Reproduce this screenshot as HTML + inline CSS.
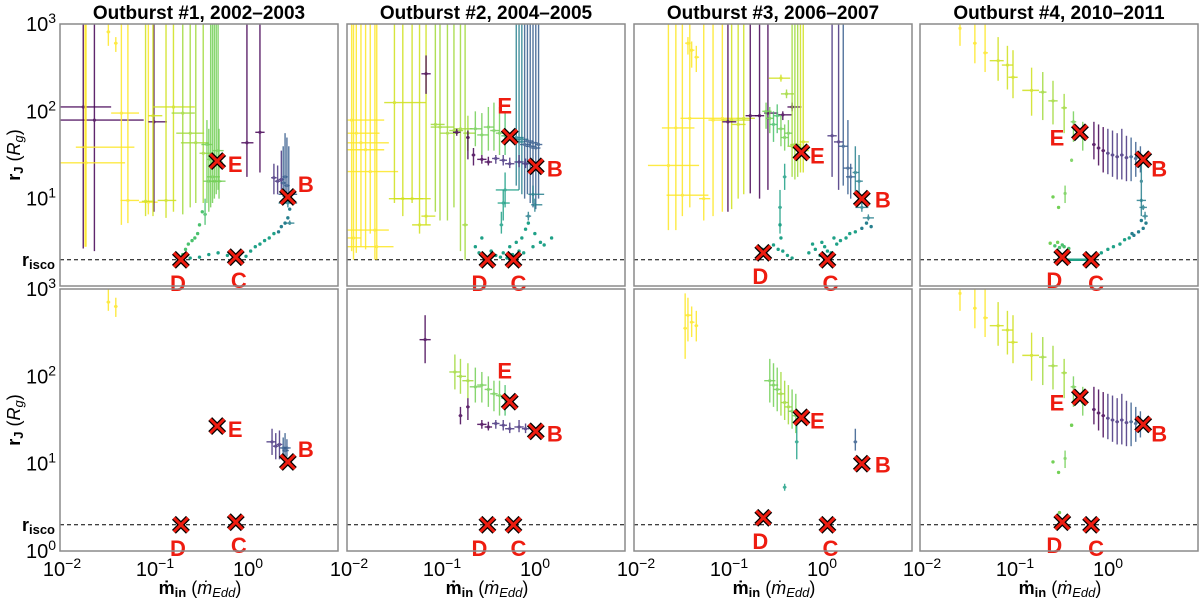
<!DOCTYPE html>
<html><head><meta charset="utf-8"><style>
html,body{margin:0;padding:0;background:#fff;width:1200px;height:600px;overflow:hidden}
svg{display:block;font-family:"Liberation Sans",sans-serif}
</style></head><body>
<svg id="chart" width="1200" height="600" viewBox="0 0 1200 600" xmlns="http://www.w3.org/2000/svg"></svg>
<script>
// ---- data (log10 units): [logMdot, logR, logRtop, logRbot, logMdotLo, logMdotHi, colorIdx]
const titles = ["Outburst #1, 2002\u20132003","Outburst #2, 2004\u20132005","Outburst #3, 2006\u20132007","Outburst #4, 2010\u20132011"];
const yTickVals = [3,2,1];
const xTickVals = [-2,-1,0];
const rIscoLog = 0.30;
const markerLetters = ["B","C","D","E"];
const markerLx = [[0.45,-0.11,-0.70,-0.31],[0.03,-0.21,-0.49,-0.25],[0.45,0.08,-0.61,-0.20],[0.40,-0.16,-0.47,-0.28]];
const markerLy = [[1.02,0.33,0.30,1.43],[1.37,0.30,0.30,1.71],[1.00,0.30,0.38,1.53],[1.45,0.30,0.33,1.76]];

const p1TopBars = [
[-1.75,2.05,3.5,0.43,-2.1,-1.45,9],[-1.63,1.90,3.5,0.40,-2.1,-1.1,9],[-1.73,1.59,3.5,0.45,-1.83,-1.2,0],
[-1.72,1.41,3.5,0.45,-2.1,-1.3,0],[-1.34,1.98,3.5,0.70,-1.45,-1.15,0],[-1.27,0.98,3.5,0.72,-1.35,-1.15,0],
[-1.05,0.96,3.5,0.82,-1.15,-0.95,0],[-1.08,0.97,3.5,0.80,-1.12,-1.0,1],[-0.99,1.88,3.5,0.85,-1.05,-0.85,9],
[-1.00,1.95,3.5,0.80,-1.05,-0.9,1],[-0.86,0.98,3.5,0.78,-0.95,-0.75,1],[-0.78,2.05,3.5,0.85,-1.0,-0.55,1],
[-0.68,1.98,3.5,0.82,-0.8,-0.55,2],[-0.60,1.75,3.5,0.90,-0.75,-0.45,2],[-0.54,1.64,3.5,0.95,-0.7,-0.4,2],
[-0.46,1.52,3.5,0.95,-0.5,-0.35,2],[-0.42,1.62,1.9,0.95,-0.48,-0.36,3],[-0.40,1.20,1.8,0.85,-0.46,-0.34,3],
[-0.38,1.45,3.5,0.90,-0.42,-0.30,3],[-0.36,1.25,3.5,0.95,-0.42,-0.28,3],[-0.34,1.20,3.5,1.0,-0.40,-0.26,3],
[-0.32,1.42,3.5,1.05,-0.38,-0.25,3],[-0.30,1.55,3.5,1.1,-0.36,-0.24,3],[-0.29,1.20,1.8,1.0,-0.35,-0.22,3],
[-0.44,0.82,1.0,0.70,-0.46,-0.42,4],[0.01,1.64,3.5,1.25,-0.05,0.08,9],[0.15,1.76,3.5,1.30,0.10,0.20,9],
[0.30,1.24,1.40,1.05,0.27,0.33,8],[0.34,1.20,1.38,1.05,0.31,0.37,8],[0.38,1.22,1.55,1.05,0.35,0.41,8],
[0.40,1.18,1.60,1.02,0.37,0.43,7],[0.42,1.25,1.75,1.00,0.39,0.45,7],[0.44,1.15,1.70,1.00,0.41,0.47,7],
[0.46,1.05,1.60,0.95,0.35,0.55,7],[0.45,0.95,1.0,0.90,0.35,0.55,6],[0.47,0.72,0.75,0.70,0.43,0.52,6],
[-1.48,2.91,3.0,2.75,-1.50,-1.46,0],[-1.40,2.78,2.85,2.68,-1.42,-1.38,0]];
const p1TopDots = [
[-0.68,0.36,4],[-0.65,0.42,4],[-0.62,0.48,4],[-0.58,0.52,4],[-0.55,0.55,4],[-0.52,0.60,4],[-0.50,0.70,4],[-0.47,0.85,4],
[-0.6,0.32,5],[-0.5,0.33,5],[-0.4,0.36,5],[-0.3,0.38,5],[-0.2,0.35,5],[-0.1,0.32,5],[0.0,0.34,5],[0.05,0.40,5],
[0.1,0.45,5],[0.15,0.48,5],[0.2,0.52,5],[0.25,0.55,5],[0.3,0.6,5],[0.35,0.62,6],[0.38,0.68,6],[0.42,0.72,6],[0.45,0.78,6],[0.47,0.88,6]];
const p1BotBars = [
[-1.48,2.85,3.05,2.75,-1.50,-1.46,0],[-1.40,2.80,2.9,2.68,-1.42,-1.38,0],
[0.28,1.25,1.4,1.1,0.22,0.32,8],[0.32,1.20,1.35,1.05,0.29,0.35,8],[0.36,1.22,1.38,1.05,0.33,0.39,8],
[0.40,1.18,1.30,1.05,0.36,0.44,7],[0.42,1.15,1.35,1.05,0.39,0.46,7],[0.44,1.18,1.28,1.08,0.40,0.48,7]];
const p1BotDots = [];

const p2Purple = [[-0.55,1.45,1.5,1.4,-0.6,-0.5,9],[-0.48,1.42,1.48,1.38,-0.52,-0.44,9],[-0.40,1.46,1.5,1.4,-0.44,-0.36,8],
[-0.32,1.44,1.5,1.38,-0.36,-0.28,8],[-0.25,1.40,1.47,1.35,-0.3,-0.2,8],[-0.15,1.42,1.5,1.36,-0.2,-0.1,8],[-0.08,1.40,1.46,1.35,-0.12,-0.04,8]];
const p2TopBars = [
[-1.95,1.90,3.5,0.40,-2.1,-1.6,0],[-1.9,1.75,3.5,0.38,-2.1,-1.65,0],[-1.85,1.64,3.5,0.45,-2.1,-1.55,0],[-1.80,1.56,3.5,0.42,-2.1,-1.6,0],
[-1.75,1.31,3.5,0.60,-2.1,-1.45,0],[-1.70,0.64,3.5,0.30,-2.1,-1.55,0],[-1.68,0.45,3.5,0.30,-2.1,-1.5,0],[-1.93,0.55,3.5,0.30,-2.1,-1.85,0],
[-1.49,2.10,3.5,0.95,-1.6,-1.15,1],[-1.40,1.00,3.5,0.80,-1.55,-1.18,1],[-1.30,1.00,3.5,0.95,-1.5,-1.1,1],[-1.22,0.70,3.5,0.60,-1.3,-1.1,1],[-1.15,0.80,3.5,0.70,-1.2,-1.05,1],
[-1.05,1.85,3.5,0.85,-1.1,-0.95,2],[-1.0,1.82,3.5,0.75,-1.1,-0.85,2],[-0.92,1.75,3.5,0.75,-1.0,-0.8,2],[-0.85,1.78,3.5,0.90,-0.9,-0.75,2],[-0.78,1.80,3.5,0.40,-0.85,-0.65,2],[-0.73,0.70,3.5,0.30,-0.76,-0.7,2],
[-0.70,1.75,1.95,1.55,-0.75,-0.62,2],[-0.62,1.80,2.0,1.6,-0.68,-0.55,3],[-0.55,1.73,1.98,1.5,-0.6,-0.48,3],[-0.48,1.82,2.05,1.55,-0.53,-0.42,3],
[-0.42,1.78,2.1,1.55,-0.46,-0.36,3],[-0.36,1.75,2.05,1.5,-0.4,-0.3,3],[-0.30,1.72,2.0,1.5,-0.34,-0.25,4],
[-1.15,2.43,2.64,2.2,-1.2,-1.1,9],[-0.82,1.76,1.8,1.72,-0.86,-0.78,9],[-0.70,1.70,1.78,1.45,-0.72,-0.68,9],[-0.64,1.50,1.58,1.38,-0.66,-0.62,9],
[-0.18,1.70,3.5,1.15,-0.22,-0.1,6],[-0.15,1.65,3.5,1.10,-0.2,-0.08,6],[-0.12,1.68,3.5,1.05,-0.18,-0.05,6],[-0.09,1.62,3.5,1.0,-0.14,-0.02,7],
[-0.06,1.66,3.5,1.05,-0.1,0.0,7],[-0.03,1.60,3.5,0.95,-0.08,0.03,7],[0.0,1.64,3.5,0.90,-0.05,0.05,7],[0.03,1.58,3.5,0.88,-0.02,0.08,7],[0.06,1.62,3.5,1.0,0.02,0.1,7],
[-0.30,1.10,1.3,0.9,-0.4,-0.15,5],[-0.32,0.95,1.1,0.75,-0.38,-0.25,5],[-0.34,0.70,0.85,0.6,-0.36,-0.32,5],
[0.0,1.05,1.15,0.95,-0.05,0.12,6],[0.02,0.93,1.0,0.85,-0.02,0.1,6],[-0.05,0.80,0.85,0.75,-0.08,-0.02,6]].concat(p2Purple);
const p2TopDots = [[-0.55,0.55,5],[-0.62,0.45,5],[-0.58,0.38,5],[-0.45,0.40,5],[-0.40,0.35,5],[-0.35,0.33,5],[-0.28,0.32,5],[-0.22,0.36,5],
[-0.15,0.40,5],[-0.10,0.38,5],[-0.25,0.45,5],[-0.12,0.55,5],[-0.08,0.65,5],[-0.05,0.72,5],[0.02,0.60,5],[0.08,0.50,5],[0.12,0.47,5],
[0.20,0.55,5],[-0.18,0.50,5],[-0.32,0.38,5],[0.0,0.45,5]];
const p2BotBars = [[-1.16,2.42,2.7,2.15,-1.22,-1.1,9],
[-0.84,2.05,2.25,1.85,-0.9,-0.78,2],[-0.78,2.00,2.2,1.8,-0.82,-0.72,2],[-0.70,1.95,2.15,1.75,-0.76,-0.64,2],[-0.62,1.88,2.1,1.7,-0.68,-0.56,3],
[-0.55,1.90,2.05,1.7,-0.6,-0.5,3],[-0.48,1.85,2.0,1.65,-0.52,-0.44,3],[-0.42,1.80,1.95,1.6,-0.46,-0.38,3],[-0.36,1.78,1.95,1.55,-0.4,-0.32,3],
[-0.30,1.75,1.9,1.55,-0.34,-0.26,4],[-0.78,1.55,1.65,1.45,-0.8,-0.76,9],[-0.70,1.65,1.75,1.5,-0.72,-0.68,9]].concat(p2Purple);
const p2BotDots = [];

const p3TopBars = [
[-1.63,1.38,3.5,0.64,-1.85,-1.3,0],[-1.55,1.81,3.5,0.64,-1.7,-1.35,0],[-1.48,1.04,3.5,0.80,-1.65,-1.2,0],[-1.40,1.92,3.5,0.90,-1.5,-1.2,0],
[-1.25,1.00,3.5,0.75,-1.3,-1.18,0],[-1.15,1.90,3.5,0.80,-1.2,-1.0,0],[-1.05,1.92,3.5,0.85,-1.2,-0.9,0],[-0.95,1.90,3.5,0.88,-1.05,-0.75,1],
[-0.88,1.85,3.5,1.0,-0.95,-0.8,1],[-0.82,1.92,3.5,1.05,-0.9,-0.7,1],
[-1.42,2.78,2.85,2.65,-1.45,-1.39,0],[-1.38,2.70,2.8,2.5,-1.4,-1.35,0],[-1.33,2.62,2.75,2.45,-1.35,-1.30,0],
[-0.99,1.88,3.5,0.85,-1.05,-0.9,9],[-0.75,1.95,3.5,1.06,-0.8,-0.65,9],[-0.65,1.95,3.5,1.0,-0.7,-0.6,9],[-0.56,1.98,3.5,1.1,-0.6,-0.45,9],
[-0.30,2.05,2.1,2.0,-0.35,-0.2,9],[-0.40,1.96,2.0,1.9,-0.45,-0.3,9],
[-0.30,1.60,3.5,1.25,-0.35,-0.2,2],[-0.27,1.62,3.5,1.22,-0.32,-0.2,2],[-0.24,1.58,3.5,1.25,-0.3,-0.15,2],[-0.21,1.55,3.5,1.3,-0.25,-0.12,1],
[-0.18,1.65,3.5,1.3,-0.22,-0.12,1],[-0.42,2.38,2.42,2.34,-0.55,-0.32,1],[-0.36,2.20,2.25,2.15,-0.42,-0.28,2],
[-0.58,2.0,2.1,1.8,-0.62,-0.52,3],[-0.54,1.92,2.05,1.75,-0.58,-0.5,3],[-0.50,1.85,2.0,1.65,-0.54,-0.46,4],[-0.46,1.95,2.08,1.75,-0.5,-0.42,4],
[-0.42,1.80,1.95,1.6,-0.46,-0.38,3],[-0.38,1.70,1.85,1.55,-0.42,-0.34,3],[-0.34,1.75,1.9,1.6,-0.38,-0.3,3],
[-0.43,0.90,1.1,0.6,-0.45,-0.41,5],[-0.38,1.25,1.4,1.1,-0.4,-0.36,5],
[0.13,1.72,3.5,1.25,0.08,0.18,8],[0.20,1.65,3.5,1.1,0.15,0.25,8],[0.25,1.60,3.5,1.15,0.2,0.3,7],[0.30,1.35,1.9,1.05,0.25,0.35,7],
[0.33,1.25,1.4,1.0,0.28,0.38,7],[0.38,1.30,1.6,1.05,0.35,0.42,6],[0.42,1.20,1.5,0.95,0.38,0.46,6],[0.45,0.90,0.95,0.85,0.38,0.52,6],[0.52,0.78,0.82,0.75,0.46,0.58,6]];
const p3TopDots = [[-0.62,0.42,5],[-0.55,0.45,5],[-0.50,0.47,5],[-0.45,0.42,5],[-0.40,0.40,5],[-0.35,0.35,5],[-0.30,0.32,5],[-0.42,0.55,5],
[-0.43,0.70,5],[-0.12,0.38,5],[-0.05,0.42,5],[0.0,0.35,5],[0.05,0.45,5],[0.08,0.40,5],[0.12,0.38,5],[0.18,0.48,5],[0.22,0.52,5],
[0.28,0.55,5],[0.32,0.60,5],[0.38,0.62,5],[0.45,0.66,6],[0.55,0.68,6],[0.50,0.72,6],[-0.08,0.48,5],[0.02,0.50,5],[0.15,0.55,5]];
const p3BotBars = [[-1.42,2.70,2.9,2.4,-1.45,-1.38,0],[-1.38,2.62,2.8,2.45,-1.4,-1.35,0],[-1.33,2.58,2.75,2.4,-1.35,-1.31,0],[-1.45,2.55,2.95,2.2,-1.47,-1.43,0],
[-0.54,1.95,2.2,1.7,-0.6,-0.48,3],[-0.50,1.90,2.15,1.65,-0.54,-0.45,3],[-0.46,1.85,2.1,1.6,-0.5,-0.42,3],[-0.42,1.80,2.05,1.55,-0.46,-0.38,2],
[-0.38,1.70,1.95,1.5,-0.42,-0.34,2],[-0.34,1.65,1.9,1.45,-0.38,-0.3,2],[-0.30,1.60,1.85,1.40,-0.34,-0.26,3],[-0.26,1.55,1.8,1.35,-0.3,-0.22,3],
[-0.25,1.25,1.45,1.05,-0.27,-0.23,5],[-0.38,0.73,0.77,0.69,-0.4,-0.36,5],[0.38,1.25,1.40,1.15,0.36,0.40,7]];
const p3BotDots = [];

const p4Diag = [[-1.57,2.95,3.5,2.75,-1.58,-1.56,0],[-1.41,2.78,3.05,2.55,-1.43,-1.39,0],[-1.30,2.67,3.0,2.45,-1.32,-1.27,0],
[-1.16,2.58,2.85,2.35,-1.25,-1.1,1],[-1.06,2.53,2.75,2.25,-1.12,-1.0,1],[-1.0,2.39,2.7,2.15,-1.05,-0.95,1],[-0.80,2.24,2.5,1.95,-0.9,-0.72,1],
[-0.68,2.22,2.45,1.9,-0.72,-0.64,2],[-0.57,2.12,2.35,1.85,-0.62,-0.52,2],[-0.45,2.04,2.2,1.75,-0.48,-0.42,2],[-0.35,1.88,2.0,1.65,-0.38,-0.32,3],
[-0.25,1.70,1.88,1.55,-0.27,-0.23,3],
[-0.13,1.62,1.88,1.45,-0.15,-0.11,9],[-0.08,1.58,1.85,1.38,-0.1,-0.06,9],[-0.03,1.55,1.82,1.3,-0.05,-0.01,9],[0.02,1.52,1.8,1.28,0,0.04,8],
[0.07,1.50,1.78,1.25,0.05,0.09,8],[0.12,1.48,1.75,1.22,0.1,0.14,8],[0.17,1.50,1.8,1.22,0.15,0.19,8],[0.22,1.47,1.72,1.2,0.2,0.24,8],
[0.27,1.48,1.7,1.2,0.25,0.29,7],[0.32,1.46,1.65,1.25,0.3,0.34,7],[0.37,1.48,1.6,1.3,0.35,0.39,7],
[-0.37,1.44,1.46,1.42,-0.38,-0.36,3],[-0.44,1.06,1.15,0.95,-0.45,-0.43,3]];
const p4TopBars = p4Diag.concat([[0.38,1.2,1.45,0.8,0.37,0.39,6],[0.38,0.98,1.0,0.96,0.33,0.43,6],[0.40,0.90,0.93,0.87,0.36,0.44,6],[0.42,0.80,0.85,0.76,0.39,0.45,6]]);
const p4TopDots = [[-0.57,1.02,3],[-0.51,0.90,3],[-0.60,0.49,3],[-0.55,0.46,4],[-0.50,0.44,4],[-0.45,0.45,4],[-0.40,0.43,4],[-0.52,0.50,3],[-0.47,0.47,4],
[-0.05,0.38,5],[0.02,0.42,5],[0.08,0.45,5],[0.15,0.48,5],[0.20,0.53,5],[0.25,0.55,5],[0.30,0.58,6],[0.35,0.62,6],[0.40,0.66,6],[0.43,0.72,6],[0.38,0.75,6],[0.28,0.60,6]];
const p4BotBars = p4Diag;
const p4BotDots = [[-0.57,1.02,3],[-0.51,0.90,3],[-0.50,0.44,3],[-0.37,1.44,3]];
const p4DCLine = [-0.47,-0.16];

const palette = ['#fde725','#d0e11c','#a0da39','#73d056','#4ac16d','#1fa187','#277f8e','#365c8d','#46327e','#440154'];
const panelBars = [[p1TopBars,p2TopBars,p3TopBars,p4TopBars],[p1BotBars,p2BotBars,p3BotBars,p4BotBars]];
const panelDots = [[p1TopDots,p2TopDots,p3TopDots,p4TopDots],[p1BotDots,p2BotDots,p3BotDots,p4BotDots]];

// ---- layout
const lefts = [60,347,634,920], W = 278, tops = [24,289], H = 262;
const XDEC = 93, YDEC = H/3;
const X = (c, lx) => lefts[c] + (lx + 2) * XDEC;
const Y = (r, ly) => tops[r] + (3 - ly) * YDEC;
const NS = "http://www.w3.org/2000/svg";
const svg = document.getElementById('chart');
function mk(tag, attrs, parent){const e=document.createElementNS(NS,tag);for(const k in attrs)e.setAttribute(k,attrs[k]);(parent||svg).appendChild(e);return e;}
const defs = mk('defs',{});
const labelOff = [[[18,-13],[3,23],[-3,23],[18,3]],[[19,2],[5,23],[-8,23],[-5,-31]],[[21,1],[3,23],[-3,23],[16,3]],[[16,9],[5,23],[-8,23],[-23,5]]];

for (let r=0;r<2;r++){
  for (let c=0;c<4;c++){
    const cp = mk('clipPath',{id:'cp'+r+c},defs);
    mk('rect',{x:lefts[c],y:tops[r],width:W,height:H},cp);
    const g = mk('g',{'clip-path':'url(#cp'+r+c+')'});
    
    
    const dl = mk('line',{x1:lefts[c],x2:lefts[c]+W,y1:Y(r,rIscoLog),y2:Y(r,rIscoLog),stroke:'#000','stroke-width':1,'stroke-dasharray':'4,3'},g);
    
    
    panelBars[r][c].forEach(b=>{
      const col = palette[b[6]];
      const bg = mk('g',{stroke:col,'stroke-width':1.4,opacity:0.85},g);
      
      
      mk('line',{x1:X(c,b[0]),x2:X(c,b[0]),y1:Y(r,b[2]),y2:Y(r,b[3])},bg);
      mk('line',{x1:X(c,b[4]),x2:X(c,b[5]),y1:Y(r,b[1]),y2:Y(r,b[1])},bg);
      mk('circle',{cx:X(c,b[0]),cy:Y(r,b[1]),r:1.6,fill:col,stroke:'none'},bg);
    });
    panelDots[r][c].forEach(d=>{
      const dt = mk('circle',{cx:X(c,d[0]),cy:Y(r,d[1]),r:1.7,fill:palette[d[2]]},g);
      
      
    });
    if (c===3 && r===0){
      const ln = mk('line',{x1:X(c,p4DCLine[0]),x2:X(c,p4DCLine[1]),y1:Y(r,rIscoLog),y2:Y(r,rIscoLog),stroke:palette[5],'stroke-width':2.5},g);
      
      
    }
    for (let m=0;m<4;m++){
      const mx = X(c,markerLx[c][m]), my = Y(r,markerLy[c][m]);
      const mg = mk('g',{});
      
      
      const s=7;
      [['#000',5.5],['#ee1c10',3]].forEach(([st,w])=>{
        mk('line',{x1:mx-s,y1:my-s,x2:mx+s,y2:my+s,stroke:st,'stroke-width':w},mg);
        mk('line',{x1:mx-s,y1:my+s,x2:mx+s,y2:my-s,stroke:st,'stroke-width':w},mg);
      });
      const t = mk('text',{x:mx+labelOff[c][m][0],y:my+labelOff[c][m][1]+8,'text-anchor':'middle','font-size':22,'font-weight':'bold',fill:'#ee1c10'},mg);
      t.textContent = markerLetters[m];
    }
    const fr = mk('rect',{x:lefts[c],y:tops[r],width:W,height:H,fill:'none',stroke:'#8a8a8a','stroke-width':1.5});
    
    
    if (r===1){
      xTickVals.forEach(v=>{
        const tx = mk('text',{x:X(c,v)+2,y:576,'text-anchor':'middle','font-size':20,fill:'#000'});
        
        
        tx.innerHTML = '10<tspan dy="-8" font-size="14">'+(v<0?'\u2212'+(-v):v)+'</tspan>';
      });
      const xl = mk('text',{x:lefts[c]+140,y:594,'text-anchor':'middle','font-size':18,fill:'#000'});
      
      
      xl.innerHTML = '<tspan font-weight="bold">\u1E41</tspan><tspan font-weight="bold" font-size="13" dy="3">in</tspan><tspan dy="-3"> (</tspan><tspan font-style="italic">\u1E41</tspan><tspan font-style="italic" font-size="13" dy="3">Edd</tspan><tspan dy="-3">)</tspan>';
    }
  }
}
titles.forEach((t,c)=>{
  const tt = mk('text',{x:lefts[c]+W/2,y:19,'text-anchor':'middle','font-size':19,'font-weight':'bold',fill:'#000'});
  
  
  tt.textContent = t;
});
for (let r=0;r<2;r++){
  const vals = r===0 ? yTickVals : yTickVals.concat([0]);
  vals.forEach(v=>{
    const ty = mk('text',{x:56,y:Y(r,v)+7,'text-anchor':'end','font-size':20,fill:'#000'});
    
    
    ty.innerHTML = '10<tspan dy="-8" font-size="14">'+v+'</tspan>';
  });
  const ri = mk('text',{x:55,y:Y(r,rIscoLog)+6,'text-anchor':'end','font-size':18,'font-weight':'bold',fill:'#000'});
  
  
  ri.innerHTML = 'r<tspan font-size="13" dy="3">isco</tspan>';
  const yt = mk('text',{transform:'translate(20,'+(tops[r]+H/2)+') rotate(-90)','text-anchor':'middle','font-size':18,fill:'#000'});
  
  
  yt.innerHTML = '<tspan font-weight="bold">r</tspan><tspan font-weight="bold" font-size="13" dy="3">J</tspan><tspan dy="-3"> (</tspan><tspan font-style="italic">R</tspan><tspan font-style="italic" font-size="13" dy="3">g</tspan><tspan dy="-3">)</tspan>';
}
</script>
</body></html>
